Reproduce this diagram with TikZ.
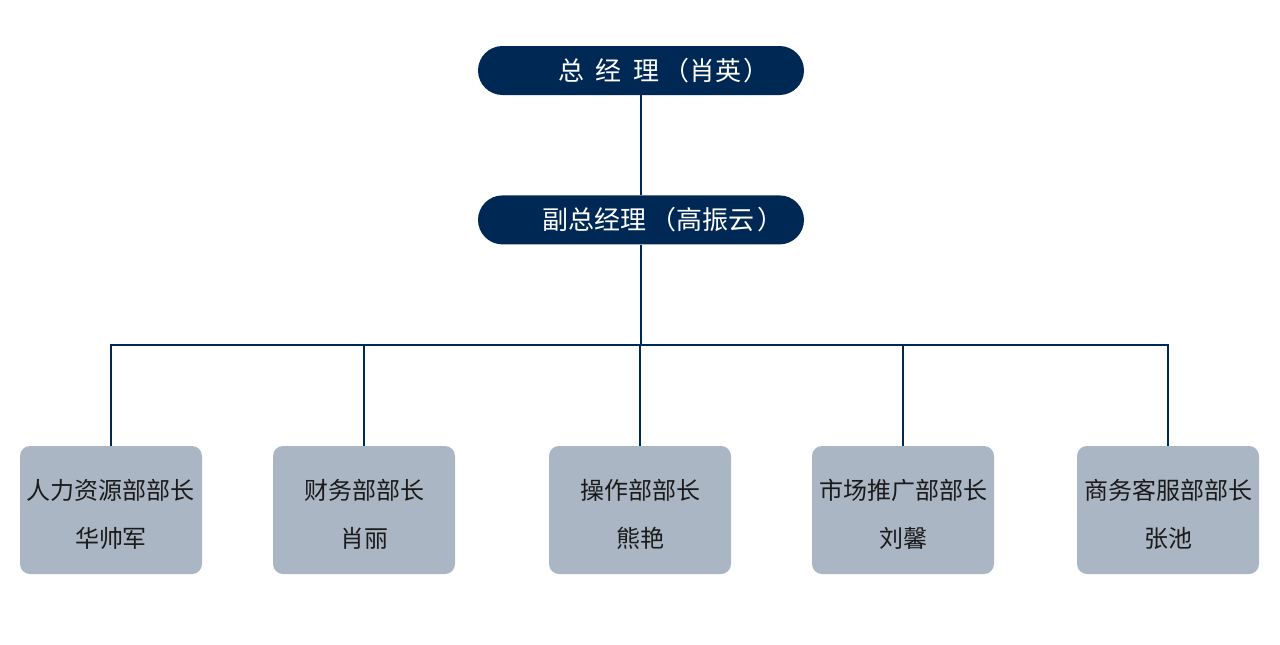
\documentclass[tikz,border=0pt]{standalone}
\usepackage{fontspec}
\setmainfont{Noto Sans CJK SC}
\usetikzlibrary{positioning}
\definecolor{navy}{HTML}{002855}
\definecolor{slate}{HTML}{ABB6C5}
\definecolor{ink}{HTML}{1A1A1A}
\newcommand{\deptlines}[2]{\rule{0pt}{29pt}#1\\#2}

\begin{document}
\begin{tikzpicture}[
    x=1pt, y=-1pt,
    pill/.style={rectangle, fill=navy, text=white, rounded corners=24.5pt, minimum width=326pt, minimum height=49pt, inner sep=0pt, font=\fontsize{26}{30}\selectfont},
    dept/.style={rectangle, fill=slate, text=ink, rounded corners=10pt, minimum width=182pt, minimum height=128pt, align=center, inner sep=0pt, font=\fontsize{24}{48}\selectfont},
    link/.style={draw=navy, line width=1.6pt}
]
\useasboundingbox (0,0) rectangle (1280,645);

% Nodes
\node[pill] (gm) at (641,70.5) {\hspace*{46pt}总\hspace{0.45em}经\hspace{0.45em}理\hspace{0.15em}（肖英\hspace{0.1em}）};
\node[pill, below=100pt of gm] (vgm) {\hspace*{44pt}副总经理\hspace{0.15em}（高振云\hspace{0.1em}）};

\node[dept] (hr)   at (111,510)  {\deptlines{人力资源部部长}{华帅军}};
\node[dept] (fin)  at (364,510)  {\deptlines{财务部部长}{肖丽}};
\node[dept] (ops)  at (640,510)  {\deptlines{操作部部长}{熊艳}};
\node[dept] (mkt)  at (903,510)  {\deptlines{市场推广部部长}{刘馨}};
\node[dept] (serv) at (1168,510) {\deptlines{商务客服部部长}{张池}};

\coordinate (bus) at (641,345);

% Links
\draw[link] (gm) -- (vgm);
\draw[link] (vgm) -- (bus);
\foreach \d in {hr,fin,ops,mkt,serv}
  \draw[link] (bus) -| (\d.north);

\end{tikzpicture}
\end{document}
